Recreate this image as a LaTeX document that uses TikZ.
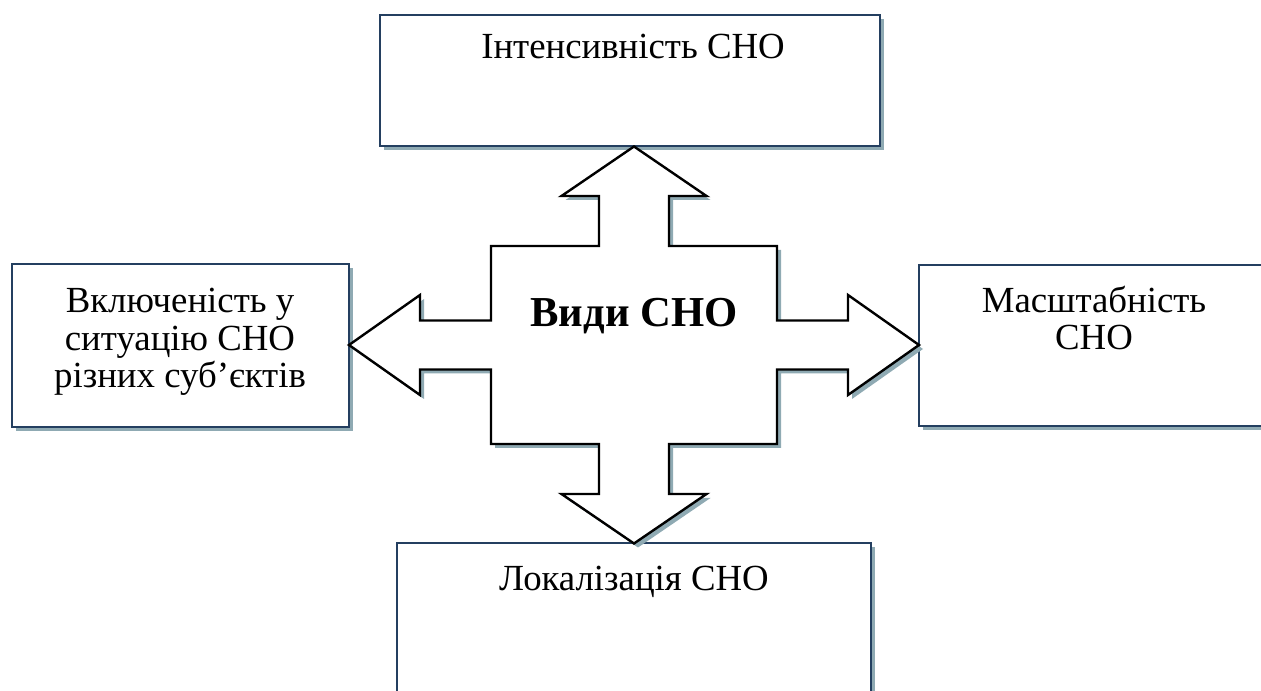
\documentclass[tikz,border=0pt]{standalone}
\usepackage{fontspec}
\setmainfont{Liberation Serif}
\usepackage{tikz}
\usetikzlibrary{shadows}

\begin{document}
\begin{tikzpicture}[
    line cap=round,
    line join=miter,
    x=0.75pt,
    y=-0.75pt
]

% =========================================================
% Colors
% =========================================================
\definecolor{boxline}{RGB}{36,63,96}
\definecolor{shadowblue}{RGB}{143,170,179}

% =========================================================
% Styles
% =========================================================
\tikzset{
    boxshadow/.style={drop shadow={shadow xshift=3pt,shadow yshift=-3pt,
        fill=shadowblue,opacity=1}},
    typebox/.style={draw=boxline,line width=1.8pt,fill=white,rectangle,
        inner sep=0pt,boxshadow},
    boxtext/.style={font=\fontsize{27.6}{28.3}\selectfont,align=center,inner sep=0pt},
    crossline/.style={draw=black,line width=1.8pt,fill=white,boxshadow},
    hubtext/.style={font=\fontsize{32}{34}\selectfont\bfseries,inner sep=0pt}
}

\useasboundingbox (0,0) rectangle (1261,691);

% =========================================================
% Boxes
% =========================================================
\node[typebox,minimum width=375pt,minimum height=98.25pt]
    (inten) at (630,80.5) {};
\node[typebox,minimum width=252.75pt,minimum height=122.25pt]
    (inclus) at (180.5,345.5) {};
\node[typebox,minimum width=264.75pt,minimum height=120.75pt]
    (scale) at (1095.5,345.5) {};
\node[typebox,minimum width=355.5pt,minimum height=117.75pt]
    (local) at (634,621.5) {};

% box labels (base = last line)
\node[boxtext,anchor=base] (intenlbl) at (633,59) {Інтенсивність СНО};
\node[boxtext,anchor=base] (incluslbl) at (180,388)
    {Включеність у\\ситуацію СНО\\різних суб’єктів};
\node[boxtext,anchor=base] (scalelbl) at (1094,350) {Масштабність\\СНО};
\node[boxtext,anchor=base] (locallbl) at (634,590) {Локалізація СНО};

% =========================================================
% Cross arrow
% =========================================================
\coordinate (hub) at (634,345);
\begin{scope}[shift={(hub)}]
    \path[crossline]
        (0,-198.5) -- (72.5,-149) -- (35,-149) -- (35,-99) -- (143,-99)
        -- (143,-24.5) -- (214,-24.5) -- (214,-50) -- (285,0)
        -- (214,50) -- (214,24.5) -- (143,24.5) -- (143,99) -- (35,99)
        -- (35,149) -- (72.5,149) -- (0,198.5)
        -- (-72.5,149) -- (-35,149) -- (-35,99) -- (-143,99)
        -- (-143,24.5) -- (-214,24.5) -- (-214,50) -- (-285,0)
        -- (-214,-50) -- (-214,-24.5) -- (-143,-24.5) -- (-143,-99)
        -- (-35,-99) -- (-35,-149) -- (-72.5,-149) -- cycle;
\end{scope}
\node[hubtext,anchor=base] (vydy) at (634,327) {Види СНО};

\end{tikzpicture}
\end{document}
